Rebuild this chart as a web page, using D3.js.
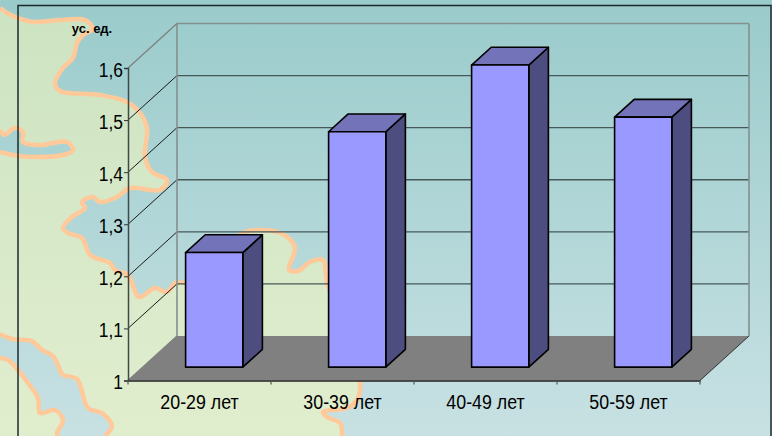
<!DOCTYPE html>
<html>
<head>
<meta charset="utf-8">
<script src="https://cdn.jsdelivr.net/npm/d3@7"></script>
<style>
html, body { margin: 0; padding: 0; background: #fff; overflow: hidden; }
svg { display: block; }
text { font-family: "Liberation Sans", Arial, sans-serif; fill: #000; }
</style>
</head>
<body>
<div id="chart"></div>
<script>
// values
let categories = ["20-29 лет", "30-39 лет", "40-49 лет", "50-59 лет"];
let values = [1.22, 1.452, 1.58, 1.48];
let yTicks = [1, 1.1, 1.2, 1.3, 1.4, 1.5, 1.6];
let unitLabel = "ус. ед.";

// background map, traced by hand
let landCoast = [[0,8],[7,13],[18,18],[33,22],[60,20],[85,20],[93,29],[83,35],[77,43],[73,58],[63,68],[55,83],[60,91],[100,95],[127,102],[140,113],[147,128],[145,157],[152,172],[167,180],[160,190],[130,188],[117,197],[100,202],[93,197],[82,202],[85,208],[72,217],[63,228],[68,233],[82,238],[90,255],[110,263],[115,270],[128,275],[139,297],[155,288],[167,292],[175,283],[187,282],[243,233],[260,230],[280,233],[293,243],[295,250],[289,270],[298,271],[310,262],[323,260],[327,282],[360,382],[357,400],[347,408],[323,412],[327,417],[340,423],[342,436]];
let inlet = [[0,130],[4,135],[15,128],[23,132],[23,142],[40,145],[67,142],[73,150],[63,155],[33,157],[13,155],[0,152]];
let riverTop = [[0,334],[12,339],[32,341],[42,350],[53,356],[60,370],[63,375],[77,379],[88,408],[102,413],[112,426],[105,436]];
let riverBottom = [[0,358],[8,360],[18,370],[28,383],[38,398],[40,413],[55,410],[63,420],[57,433],[58,436]];

let w = 772, h = 436;
let svg = d3.select("#chart").append("svg").attr("width", w).attr("height", h);

let defs = svg.append("defs");
function addGradient(id, top, bottom) {
    let g = defs.append("linearGradient").attr("id", id).attr("gradientUnits", "userSpaceOnUse")
        .attr("x1", 0).attr("y1", 0).attr("x2", 0).attr("y2", h);
    g.append("stop").attr("offset", 0).attr("stop-color", top);
    g.append("stop").attr("offset", 1).attr("stop-color", bottom);
}
addGradient("sea", "#9acbcb", "#c8e1e3");
addGradient("land", "#cce3c2", "#e1eece");

let line = d3.line();
let coastColor = "#ffc999";

/****************************************************************************************************************
	background: sea, land, then the water bits on top
****************************************************************************************************************/
svg.append("rect").attr("width", w).attr("height", h).attr("fill", "url(#sea)");
svg.append("path").attr("d", line(landCoast.concat([[0,436]])) + "Z").attr("fill", "url(#land)");
svg.append("path").attr("d", line(riverTop.concat(riverBottom.slice().reverse())) + "Z").attr("fill", "url(#sea)");
svg.append("path").attr("d", line(inlet)).attr("fill", "url(#sea)");
[landCoast, inlet, riverTop, riverBottom].forEach(function (c) {
    svg.append("path").attr("d", line.curve(d3.curveCatmullRom)(c)).attr("fill", "none")
        .attr("stroke", coastColor).attr("stroke-width", 4.5);
});
line.curve(d3.curveLinear);

// frame
svg.append("rect").attr("x", 18).attr("y", 5.5).attr("width", 753).attr("height", 440)
    .attr("fill", "none").attr("stroke", "#1e2a2a").attr("stroke-width", 1.5);

/****************************************************************************************************************
	scales: x and y on the front plane, depth goes to the back wall
****************************************************************************************************************/
let x = d3.scaleBand().domain(categories).range([128, 700]);
let xEdge = d3.scaleLinear().domain([0, categories.length]).range([128, 700]);
let y = d3.scaleLinear().domain([1, 1.6]).range([380.5, 68]);
let depthX = d3.scaleLinear().domain([0, 1]).range([0, 49]);
let depthY = d3.scaleLinear().domain([0, 1]).range([0, -44.5]);

function pt(px, val, z) { return [px + depthX(z), y(val) + depthY(z)]; }

let yMin = yTicks[0], yMax = yTicks[yTicks.length - 1];

// floor
svg.append("path")
    .attr("d", line([pt(128, yMin, 0), pt(700, yMin, 0), pt(700, yMin, 1), pt(128, yMin, 1)]) + "Z")
    .attr("fill", "#808080");

// walls
yTicks.forEach(function (t) {
    let top = t == yMax, bottom = t == yMin;
    svg.append("path").attr("d", line([pt(128, t, 1), pt(700, t, 1)])).attr("fill", "none")
        .attr("stroke", top ? "#858f8f" : (bottom ? "none" : "#465858"))
        .attr("stroke-width", top ? 1.6 : 1.3);
    svg.append("path").attr("d", line([pt(128, t, 0), pt(128, t, 1)])).attr("fill", "none")
        .attr("stroke", top || bottom ? "#808080" : "#1a1a1a")
        .attr("stroke-width", top || bottom ? 1.3 : 1);
});
svg.append("path").attr("d", line([pt(128, yMin, 1), pt(128, yMax, 1)]))
    .attr("stroke", "#858f8f").attr("stroke-width", 1.6);
svg.append("path").attr("d", line([pt(700, yMin, 1), pt(700, yMax, 1)]))
    .attr("stroke", "#858f8f").attr("stroke-width", 1.6);
svg.append("path").attr("d", line([pt(700, yMin, 0), pt(700, yMin, 1)]))
    .attr("stroke", "#333").attr("stroke-width", 1);

/****************************************************************************************************************
	bars: box sits between depth 0.3 and 0.7, 0.4 of the band wide
****************************************************************************************************************/
let zFront = 0.3, zBack = 0.7, barPart = 0.4;
let bars = svg.selectAll("g.bar").data(categories).enter().append("g").attr("class", "bar")
    .attr("stroke", "#000").attr("stroke-width", 1.6).attr("stroke-linejoin", "round");

function barX(c) { return x(c) + x.bandwidth() * (1 - barPart) / 2; }
function barV(i) { return values[i]; }

bars.append("path").attr("fill", "#4d4d80").attr("d", function (c, i) {
    let r = barX(c) + x.bandwidth() * barPart;
    return line([pt(r, yMin, zFront), pt(r, barV(i), zFront), pt(r, barV(i), zBack), pt(r, yMin, zBack)]) + "Z";
});
bars.append("path").attr("fill", "#7373ba").attr("d", function (c, i) {
    let l = barX(c), r = l + x.bandwidth() * barPart;
    return line([pt(l, barV(i), zFront), pt(r, barV(i), zFront), pt(r, barV(i), zBack), pt(l, barV(i), zBack)]) + "Z";
});
bars.append("path").attr("fill", "#9999ff").attr("d", function (c, i) {
    let l = barX(c), r = l + x.bandwidth() * barPart;
    return line([pt(l, yMin, zFront), pt(r, yMin, zFront), pt(r, barV(i), zFront), pt(l, barV(i), zFront)]) + "Z";
});

/****************************************************************************************************************
	axes: the labels in the picture are tall and squeezed, hence the scale on the text
****************************************************************************************************************/
let yAxis = d3.axisLeft(y).tickValues(yTicks).tickSizeOuter(0).tickSize(4).tickPadding(2)
    .tickFormat(function (d) { return String(d).replace(".", ","); });
let gy = svg.append("g").attr("transform", "translate(128,0)").call(yAxis);
gy.selectAll("text").style("font-size", "20.5px").attr("dy", "0.41em").attr("transform", "scale(0.85,1)");
gy.selectAll("line").attr("stroke", "#333");
gy.select(".domain").attr("stroke", "#404848").attr("stroke-width", 1.5);

let xAxis = d3.axisBottom(x).tickSize(0).tickPadding(14).tickSizeOuter(0);
let gx = svg.append("g").attr("transform", "translate(0," + y(yMin) + ")").call(xAxis);
gx.selectAll("text").style("font-size", "20px").attr("transform", "scale(0.89,1)");
gx.select(".domain").attr("stroke", "#222").attr("stroke-width", 1.3);

// tick marks sit on the category edges, not the band centres
svg.selectAll("line.edge").data(d3.range(categories.length + 1)).enter().append("line").attr("class", "edge")
    .attr("x1", function (d) { return xEdge(d); }).attr("x2", function (d) { return xEdge(d); })
    .attr("y1", y(yMin)).attr("y2", y(yMin) + 4)
    .attr("stroke", "#555").attr("stroke-width", 1.2);

svg.append("text").attr("x", 92).attr("y", 33).attr("text-anchor", "middle")
    .style("font-size", "13px").style("font-weight", "bold").text(unitLabel);
</script>
</body>
</html>
